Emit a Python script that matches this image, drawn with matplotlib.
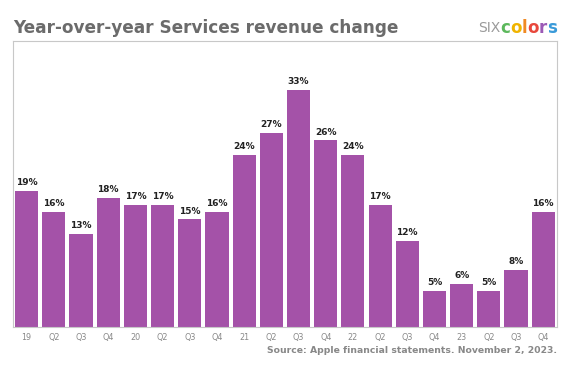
import matplotlib
matplotlib.use("Agg")
import matplotlib.pyplot as plt

etiquetas = ["19", "Q2", "Q3", "Q4", "20", "Q2", "Q3", "Q4", "21", "Q2",
             "Q3", "Q4", "22", "Q2", "Q3", "Q4", "23", "Q2", "Q3", "Q4"]
valores = [19, 16, 13, 18, 17, 17, 15, 16, 24, 27,
           33, 26, 24, 17, 12, 5, 6, 5, 8, 16]

fig = plt.figure(figsize=(5.67, 3.67), dpi=100)
ax = fig.add_axes([0.023, 0.109, 0.959, 0.779])

x = range(len(valores))
ax.bar(x, valores, width=0.85, color="#A452A8")
for xi, v in zip(x, valores):
    ax.text(xi, v + 0.5, f"{v}%", ha="center", va="bottom",
            fontsize=6.5, fontweight="bold", color="#222222")

ax.set_xlim(-0.5, len(valores) - 0.5)
ax.set_ylim(0, 39.8)
ax.set_yticks([])
ax.set_xticks(list(x))
ax.set_xticklabels(etiquetas, fontsize=5.8, color="#888888")
ax.tick_params(axis="x", length=0, pad=4)
for s in ax.spines.values():
    s.set_color("#c8c8c8")
    s.set_linewidth(0.8)

fig.text(0.023, 0.923, "Year-over-year Services revenue change", fontsize=12.2,
         fontweight="bold", color="#6b6b6b", va="center")
fig.text(0.982, 0.032, "Source: Apple financial statements. November 2, 2023.",
         fontsize=6.7, fontweight="bold", color="#888888", ha="right", va="bottom")

# logo, alineado a la derecha
logo = [("SIX", "#9a9a9a", "normal", 10), ("c", "#5cb85c", "bold", 12),
        ("o", "#f0b400", "bold", 12), ("l", "#f08a24", "bold", 12),
        ("o", "#e8483c", "bold", 12), ("r", "#9b59b6", "bold", 12),
        ("s", "#3a9ad9", "bold", 12)]
renderer = fig.canvas.get_renderer()
textos = []
ancho = 0
for txt, col, w, fs in logo:
    t = fig.text(0, 0.925, txt, fontsize=fs, color=col, fontweight=w, va="center")
    bb = t.get_window_extent(renderer=renderer)
    textos.append((t, bb.width / fig.bbox.width))
    ancho += bb.width / fig.bbox.width
xpos = 0.982 - ancho
for t, w in textos:
    t.set_x(xpos)
    xpos += w

fig.savefig("out.png", dpi=100)
